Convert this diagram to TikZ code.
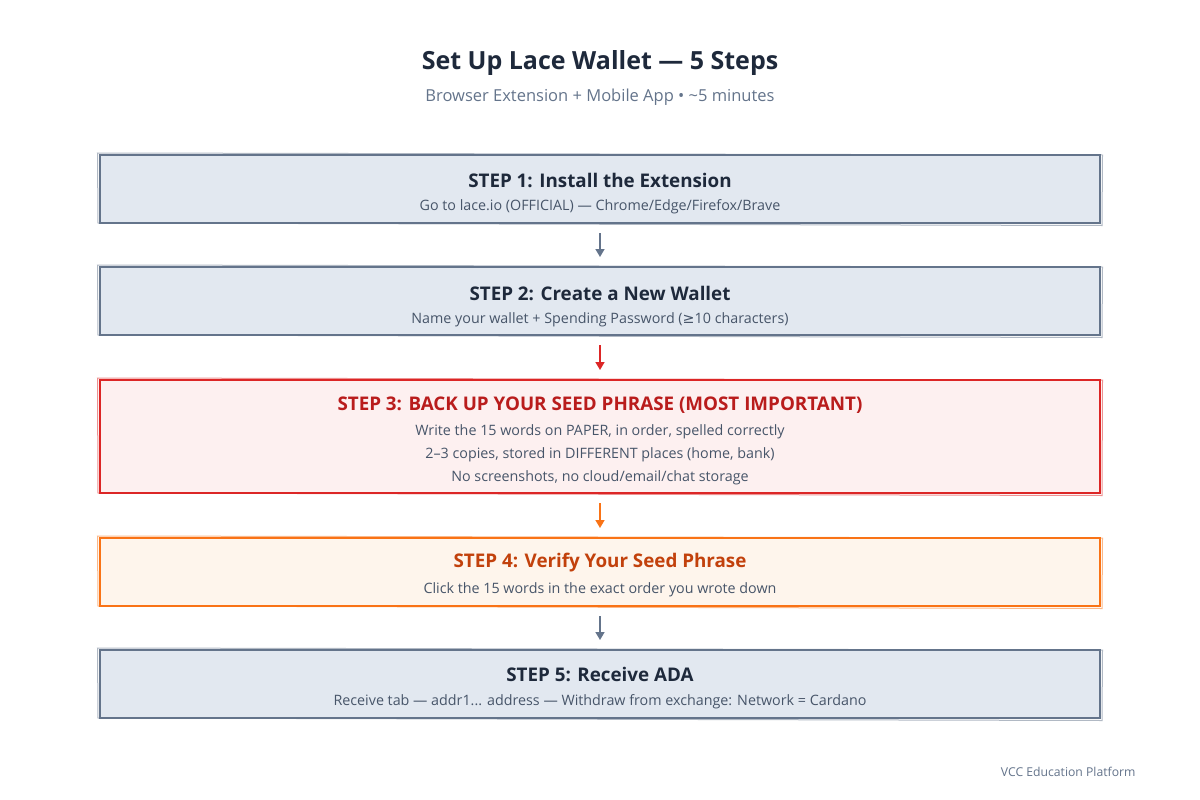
\documentclass[tikz,border=0pt]{standalone}
\usepackage{fontspec}
\setmainfont{Open Sans}
\newfontfamily\symfont{DejaVu Sans}
\usetikzlibrary{arrows.meta}
\definecolor{slate}{HTML}{64748B}
\definecolor{slatefill}{HTML}{E2E8F0}
\definecolor{ink}{HTML}{1E293B}
\definecolor{subink}{HTML}{475569}
\definecolor{redline}{HTML}{DC2626}
\definecolor{redfill}{HTML}{FDF0F0}
\definecolor{redink}{HTML}{B91C1C}
\definecolor{orline}{HTML}{F97316}
\definecolor{orfill}{HTML}{FEF5EC}
\definecolor{orink}{HTML}{C2410C}
\definecolor{muted}{HTML}{64748B}
\tikzset{
  stepbox/.style={draw=#1, line width=2pt, minimum width=1000pt, inner sep=0pt},
  sketch/.style={draw=#1, line width=1pt, opacity=0.5},
  ttl/.style={font=\fontsize{18.8}{22}\selectfont\bfseries, text=ink},
  sub/.style={font=\fontsize{14.3}{17}\selectfont, text=subink},
  arr/.style={draw=#1, line width=1.6pt, -{Triangle[length=8pt,width=9pt]}, shorten <=9pt, shorten >=9pt},
}
\newcommand{\skline}[2]{%
  \draw[sketch=#2] ([shift={(-1.5,-1)}]#1.north west) -- ([shift={(1.5,1)}]#1.north east)
     -- ([shift={(1,1.5)}]#1.south east) -- ([shift={(-1,-1)}]#1.south west) -- cycle;}
\begin{document}
\begin{tikzpicture}[x=1pt,y=-1pt]
\useasboundingbox[fill=white] (0,0) rectangle (1200,800);
\node[font=\fontsize{25}{29}\selectfont\bfseries, text=ink] (title) at (600,63) {Set Up Lace Wallet — 5 Steps};
\node[font=\fontsize{16.5}{19}\selectfont, text=muted] (subtitle) at (600,97.5) {Browser Extension + Mobile App • \textasciitilde 5 minutes};

\node[stepbox=slate, fill=slatefill, minimum height=68pt] (b1) at (600,189) {};
\skline{b1}{slate}
\node[ttl] (t1) at (600,180) {STEP 1: Install the Extension};
\node[sub] (s1) at (600,206.5) {Go to lace.io (OFFICIAL) — Chrome/Edge/Firefox/Brave};

\node[stepbox=slate, fill=slatefill, minimum height=68pt] (b2) at (600,301) {};
\skline{b2}{slate}
\node[ttl] (t2) at (600,293) {STEP 2: Create a New Wallet};
\node[sub] (s2) at (600,319.5) {Name your wallet + Spending Password ({\symfont ≥}10 characters)};

\node[stepbox=redline, fill=redfill, minimum height=113pt] (b3) at (600,436.5) {};
\skline{b3}{redline}
\node[ttl, text=redink] (t3) at (600,405) {STEP 3: BACK UP YOUR SEED PHRASE (MOST IMPORTANT)};
\node[sub] (s3a) at (600,431.5) {Write the 15 words on PAPER, in order, spelled correctly};
\node[sub] (s3b) at (600,454.5) {2–3 copies, stored in DIFFERENT places (home, bank)};
\node[sub] (s3c) at (600,477.5) {No screenshots, no cloud/email/chat storage};

\node[stepbox=orline, fill=orfill, minimum height=68pt] (b4) at (600,572) {};
\skline{b4}{orline}
\node[ttl, text=orink] (t4) at (600,563) {STEP 4: Verify Your Seed Phrase};
\node[sub] (s4) at (600,589.5) {Click the 15 words in the exact order you wrote down};

\node[stepbox=slate, fill=slatefill, minimum height=68pt] (b5) at (600,684) {};
\skline{b5}{slate}
\node[ttl] (t5) at (600,674) {STEP 5: Receive ADA};
\node[sub] (s5) at (600,701.5) {Receive tab — addr1... address — Withdraw from exchange: Network = Cardano};

\draw[arr=slate] (b1.south) -- (b2.north);
\draw[arr=redline] (b2.south) -- (b3.north);
\draw[arr=orline] (b3.south) -- (b4.north);
\draw[arr=slate] (b4.south) -- (b5.north);

\node[anchor=east, font=\fontsize{12.2}{15}\selectfont, text=muted] (footer) at (1139,772) {VCC Education Platform};
\end{tikzpicture}
\end{document}
